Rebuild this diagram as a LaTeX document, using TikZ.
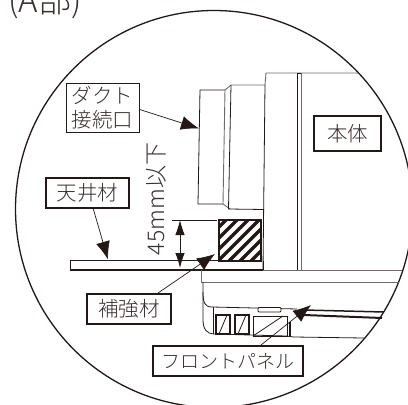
\documentclass[tikz,border=0pt]{standalone}
\usepackage{fontspec}
\usetikzlibrary{arrows.meta}
\setmainfont{Noto Sans CJK JP Light}
\definecolor{inkdark}{HTML}{231815}
\tikzstyle{block} = [rectangle, draw=inkdark, fill=white, text=inkdark!90, align=center, inner sep=0pt, font=\fontsize{20.5}{24}\selectfont]
\tikzstyle{line} = [draw=inkdark, line width=0.7pt, -{Latex[length=18pt,width=14pt]}]
\tikzstyle{body} = [draw=inkdark, line width=0.8pt]
\tikzstyle{soft} = [draw=inkdark!65, line width=0.9pt]
\begin{document}
\begin{tikzpicture}[x=1pt, y=-1pt]
  \useasboundingbox (0,0) rectangle (408,405);
  % Title
  \node [anchor=base, font=\fontsize{33}{33}\selectfont, text=inkdark!90, inner sep=0pt] (title) at (45,12.5) {(A部)};
  % Lens
  \draw [inkdark, line width=1.3pt] (214,209) circle (198.5);
  % Duct and body
  \draw [body] (225,90) -- (200,90) -- (198,204) -- (223,204);
  \draw [soft] (225,90) -- (223,204);
  \draw [soft] (225,90) -- (231,85);
  \draw [soft] (223,204) -- (230,209);
  \draw [body] (231,85) -- (228.5,209) -- (264,209.5);
  \draw [soft] (231,85) -- (265,85) -- (266,73) -- (358,73);
  \draw [body] (265,85) -- (263,270);
  \draw [body] (297.5,73) -- (297.5,270);
  \draw [soft] (301,73) -- (301,270);
  \draw [inkdark, line width=1.5pt] (297,73.5) -- (301,73.5);
  % Hatched block
  \begin{scope}
    \clip (219,220) rectangle (261,261);
    \foreach \hx in {170,181,...,270} {
      \draw [inkdark, line width=3.2pt] (\hx,265) -- (\hx+50,215);
    }
  \end{scope}
  \draw [inkdark, line width=2pt] (219,220) rectangle (261,261);
  % Ceiling board
  \draw [inkdark, line width=1pt] (70,269) -- (70,260.5) -- (218,260.5);
  \draw [inkdark, line width=2pt] (69.5,269.5) -- (263,269.5);
  \draw [inkdark, line width=1pt] (263,261) -- (263,270);
  % Lower body
  \draw [soft] (263,270) -- (402,270);
  \draw [soft] (201,270) -- (201,282) -- (399,282);
  \draw [body] (203,282) -- (203,320) .. controls (203,329) and (207,334) .. (214,334) -- (286,336) -- (294,337) -- (364,338);
  \draw [body] (203,292) .. controls (203,303) and (205,307) .. (212,307) -- (297,309);
  \draw [body] (213,307) -- (213,334);
  \draw [body, fill=white, rounded corners=1pt] (258,307.5) rectangle (281,312);
  \foreach \sx in {216,235} {
    \draw [inkdark, line width=1.3pt] (\sx,315) rectangle (\sx+14,334);
    \draw [body] (\sx+3,334) -- (\sx+11,315);
  }
  \draw [body] (253,316) rectangle (287,336);
  \draw [body] (253,336) -- (283,316);
  \draw [inkdark, line width=2.4pt] (290,322) -- (290,336);
  \draw [inkdark, line width=1.5pt] (304,310) -- (384,312);
  \draw [inkdark, line width=2pt] (304,315) -- (382,318);
  % Dimension
  \coordinate (dimtop) at (180,220);
  \coordinate (dimbot) at (180,268);
  \draw [inkdark, line width=0.7pt] (172,220) -- (217,220);
  \draw [inkdark, line width=0.8pt, {Latex[length=15pt,width=9.5pt]}-{Latex[length=15pt,width=9.5pt]}] (dimtop) -- (dimbot);
  \node [rotate=90, inner sep=0pt, text=inkdark!90, font=\fontsize{23}{23}\selectfont] (height) at (156,199) {45mm以下};
  % Place nodes
  \node [block, line width=1pt, minimum width=73pt, minimum height=49pt] (duct) at (102.5,107.5) {ダクト\\接続口};
  \node [block, line width=1.7pt, minimum width=83pt, minimum height=30pt] (ceiling) at (87.5,193) {天井材};
  \node [block, line width=2pt, minimum width=67pt, minimum height=35pt] (main) at (347.5,133.5) {本体};
  \node [block, line width=1.7pt, minimum width=84pt, minimum height=30pt] (rib) at (129,309) {補強材};
  \node [block, line width=1.7pt, minimum width=150pt, minimum height=30pt, font=\fontsize{19}{19}\selectfont] (panel) at (228,361) {フロントパネル};
  % Draw edges
  \coordinate (ducttip) at (199,128.5);
  \coordinate (ceilingtip) at (108,259.5);
  \coordinate (ribtip) at (215,254);
  \coordinate (paneltip) at (311,305);
  \path [line] (duct.-3) -- (ducttip);
  \path [line] (ceiling.-70) -- (ceilingtip);
  \path [line] (rib.north east) ++(-14,0) coordinate (ribout) (ribout) -- (ribtip);
  \path [line] (panel.north east) ++(-43,0) coordinate (panelout) (panelout) -- (paneltip);
\end{tikzpicture}
\end{document}
